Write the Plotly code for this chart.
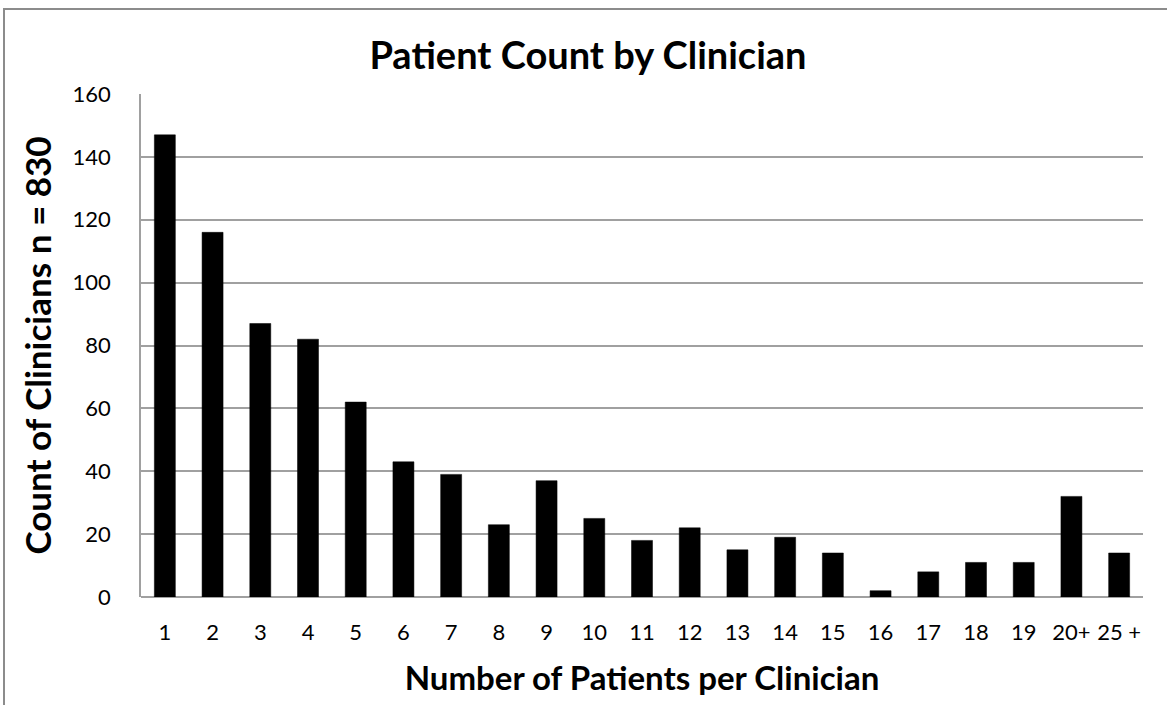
import plotly.graph_objects as go

categories = [str(i) for i in range(1, 20)] + ["20+", "25 +"]
counts = [147, 116, 87, 82, 62, 43, 39, 23, 37, 25, 18, 22, 15, 19, 14, 2, 8, 11, 11, 32, 14]
y_ticks = [0, 20, 40, 60, 80, 100, 120, 140, 160]

FONT = "Lato, 'Open Sans', sans-serif"

fig = go.Figure(go.Bar(
    x=categories, y=counts,
    marker=dict(color="black", line=dict(color="black", width=0.5)),
))

W, H = 1167, 705
L, R, T, B = 141, 24, 94, 108
pw, ph = W - L - R, H - T - B

fig.update_layout(
    width=W, height=H,
    margin=dict(l=L, r=R, t=T, b=B),
    paper_bgcolor="white", plot_bgcolor="white",
    bargap=0.56,
    showlegend=False,
    font=dict(family=FONT, color="black"),
    title=dict(text="<b>Patient Count by Clinician</b>", x=(588 / W), xanchor="center",
               y=1 - 56 / H, yanchor="middle", font=dict(size=38, family=FONT, color="black")),
)
fig.update_xaxes(
    type="category", showline=False, showgrid=False, ticks="",
    tickfont=dict(size=22, family=FONT, color="black"), ticklabelstandoff=20,
    title=dict(text="<b>Number of Patients per Clinician</b>", font=dict(size=33, family=FONT, color="black"), standoff=22),
)
fig.update_yaxes(
    range=[0, 160], tickvals=y_ticks, showgrid=True, gridcolor="#a0a0a0", gridwidth=1.5,
    showline=True, linecolor="#a0a0a0", linewidth=1.5, zeroline=True, zerolinecolor="#a0a0a0", zerolinewidth=1.5,
    tickfont=dict(size=22, family=FONT, color="black"), ticks="", ticklen=0, ticklabelstandoff=24,
    title=dict(text="<b>Count of Clinicians n = 830</b>", font=dict(size=35, family=FONT, color="black"), standoff=10),
)

# outer chart border (only top and left edges visible in the frame)
fig.add_shape(type="rect", xref="paper", yref="paper",
              x0=(4 - L) / pw, x1=(1190 - L) / pw,
              y0=(H - B - 730) / ph, y1=(H - B - 9) / ph,
              line=dict(color="#8c8c8c", width=2), layer="below")

fig.write_html("out.html", config={"displayModeBar": False},
               post_script="document.body.style.margin='0';document.body.style.overflow='hidden';")
